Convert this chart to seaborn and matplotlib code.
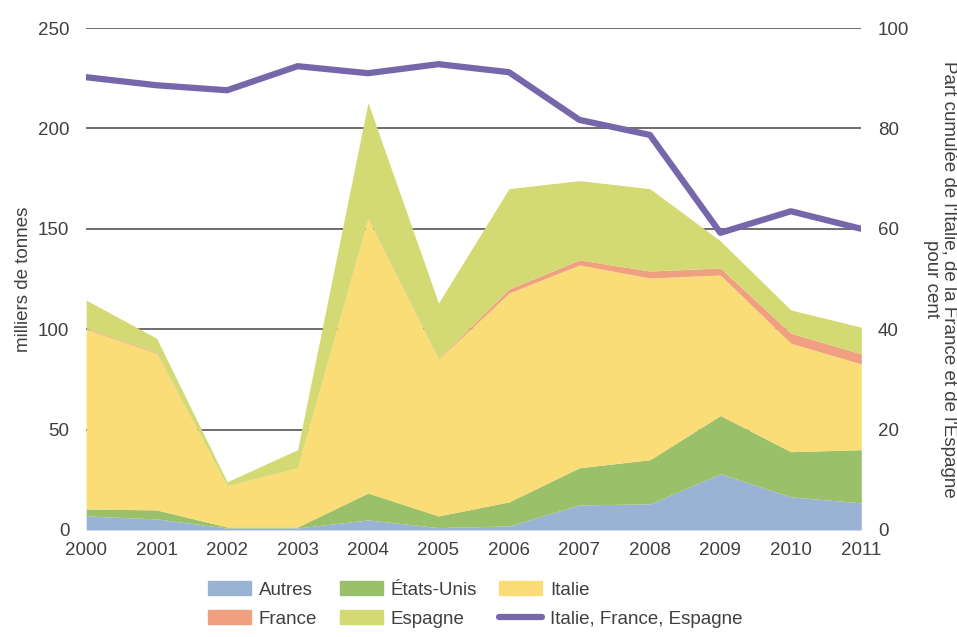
import numpy as np
import pandas as pd
import matplotlib
matplotlib.use("Agg")
import matplotlib.pyplot as plt
import seaborn as sns
from matplotlib.patches import Patch
from matplotlib.lines import Line2D

# data (milliers de tonnes)
years = [2000, 2001, 2002, 2003, 2004, 2005, 2006, 2007, 2008, 2009, 2010, 2011]
autres = [7, 5.5, 1, 1, 5, 1.2, 2, 12.5, 13, 28, 16.5, 13.5]
etats_unis = [3.5, 4.5, 0.5, 0.5, 13.4, 5.8, 12, 18.5, 22, 29, 22.5, 26.5]
italie = [89.5, 78, 20.5, 29.5, 136.6, 78, 104, 101, 90.5, 70, 54, 42.7]
france = [0.5, 0.5, 0, 0, 0.3, 0.3, 2, 2.5, 3.5, 3.5, 5, 5]
espagne = [14, 7, 2, 9, 57.6, 27.7, 50, 39.5, 41, 13.5, 11.6, 13.3]
# part cumulée (pour cent)
part_ife = [90.2, 88.6, 87.6, 92.4, 91.0, 92.8, 91.2, 81.7, 78.7, 59.2, 63.5, 60.0]

labels = ["Autres", "États-Unis", "Italie", "France", "Espagne"]
colors = ["#9ab3d5", "#9bc06a", "#fadd77", "#f0a080", "#d4da73"]
line_color = "#7667ab"
text_color = "#404040"

sns.set_theme(style="white")
plt.rcParams["font.family"] = ["Liberation Sans Narrow", "Liberation Sans", "DejaVu Sans"]
fs = 13.5

fig, ax = plt.subplots(figsize=(9.57, 6.37), dpi=100)
fig.subplots_adjust(left=0.09, right=0.9, top=0.956, bottom=0.168)

ax.stackplot(years, autres, etats_unis, italie, france, espagne,
             colors=colors, linewidth=0, zorder=2)
ax.set_xlim(2000, 2011)
ax.set_ylim(0, 250)
ax.set_yticks([0, 50, 100, 150, 200, 250])
ax.set_xticks(years)
for y in [50, 100, 150, 200, 250]:
    ax.axhline(y, color="#555555", lw=1.2, zorder=1)
ax.set_ylabel("milliers de tonnes", fontsize=fs, color=text_color)
ax.tick_params(axis="both", length=0, labelsize=fs, labelcolor=text_color)
ax.tick_params(axis="x", pad=9)
ax.tick_params(axis="y", pad=12)
for s in ax.spines.values():
    s.set_visible(False)

ax2 = ax.twinx()
df_line = pd.DataFrame({"annee": years, "part": part_ife})
sns.lineplot(data=df_line, x="annee", y="part", ax=ax2, color=line_color,
             lw=4.5, zorder=5)
ax2.set_ylim(0, 100)
ax2.set_yticks([0, 20, 40, 60, 80, 100])
ax2.set_ylabel("Part cumulée de l'Italie, de la France et de l'Espagne\npour cent",
               rotation=-90, labelpad=34, fontsize=fs, color=text_color,
               linespacing=1.0)
ax2.tick_params(axis="y", length=0, labelsize=fs, labelcolor=text_color, pad=12)
ax2.set_xlabel("")
for s in ax2.spines.values():
    s.set_visible(False)

handles = [
    Patch(color=colors[0], label=labels[0]),
    Patch(color=colors[3], label=labels[3]),
    Patch(color=colors[1], label=labels[1]),
    Patch(color=colors[4], label=labels[4]),
    Patch(color=colors[2], label=labels[2]),
    Line2D([0], [0], color=line_color, lw=4.5, label="Italie, France, Espagne"),
]
leg = fig.legend(handles=handles, loc="lower left", bbox_to_anchor=(0.2, -0.012),
                 ncol=3, frameon=False, fontsize=fs, handlelength=2.3,
                 handleheight=0.8, columnspacing=1.2, labelspacing=0.6,
                 handletextpad=0.4)
for t in leg.get_texts():
    t.set_color(text_color)

fig.savefig("out.png", dpi=100)
